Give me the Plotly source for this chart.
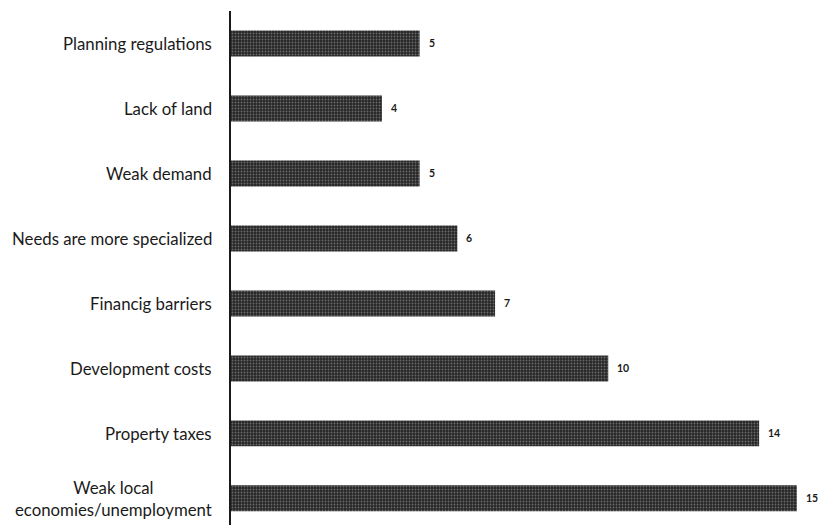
import plotly.graph_objects as go

categories = [
    "Planning regulations",
    "Lack of land",
    "Weak demand",
    "Needs are more specialized",
    "Financig barriers",
    "Development costs",
    "Property taxes",
    "Weak local<br>economies/unemployment",
]
values = [5, 4, 5, 6, 7, 10, 14, 15]

positions = list(range(len(categories)))
label_font = dict(family="Lato, 'Open Sans', sans-serif", size=16.8, color="#1a1a1a")

fig = go.Figure(
    go.Bar(
        x=values,
        y=positions,
        orientation="h",
        width=0.4,
        marker=dict(
            color="#262626",
            line=dict(width=0),
            pattern=dict(shape=".", fgcolor="#b0b0b0", size=3, solidity=0.3),
        ),
        hoverinfo="skip",
    )
)

annotations = []
for pos, name, val in zip(positions, categories, values):
    # category label to the left of the axis
    annotations.append(dict(
        x=0, y=pos, xref="x", yref="y", text=name, showarrow=False,
        xanchor="right", yanchor="middle", align="center", xshift=-17,
        font=label_font,
    ))
    # value label past the end of each bar
    annotations.append(dict(
        x=val, y=pos, xref="x", yref="y", text=f"<b>{val}</b>", showarrow=False,
        xanchor="left", yanchor="middle", xshift=7,
        font=dict(family="Lato, 'Open Sans', sans-serif", size=10.5, color="#1a1a1a"),
    ))

fig.update_layout(
    width=821,
    height=525,
    margin=dict(l=231, r=0, t=11, b=0),
    paper_bgcolor="white",
    plot_bgcolor="white",
    showlegend=False,
    annotations=annotations,
    xaxis=dict(range=[0, 15.64], showgrid=False, zeroline=False,
               showticklabels=False, showline=False, ticks=""),
    yaxis=dict(range=[7.41, -0.5], showgrid=False, zeroline=False,
               showticklabels=False, showline=True, linecolor="#1a1a1a",
               linewidth=1.5, ticks=""),
)

fig.write_html("out.html")
